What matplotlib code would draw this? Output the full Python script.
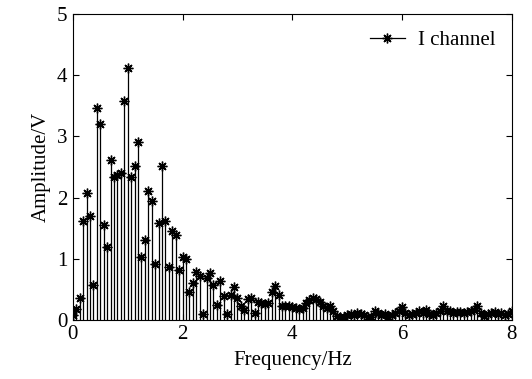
import matplotlib
matplotlib.use("Agg")
import matplotlib.pyplot as plt
import numpy as np
from matplotlib.lines import Line2D

# spectrum of the I channel
df = 0.0625  # frequency step [Hz]
amp = [
	0.08, 0.17, 0.35, 1.61, 2.07, 1.69, 0.57, 3.46, 3.20, 1.55,
	1.19, 2.61, 2.33, 2.37, 2.40, 3.58, 4.11, 2.33, 2.52, 2.90,
	1.03, 1.30, 2.10, 1.95, 0.92, 1.59, 2.52, 1.62, 0.87, 1.46,
	1.38, 0.82, 1.03, 1.00, 0.46, 0.60, 0.79, 0.72, 0.10, 0.68,
	0.77, 0.57, 0.25, 0.64, 0.39, 0.09, 0.41, 0.53, 0.35, 0.23,
	0.16, 0.34, 0.35, 0.11, 0.30, 0.28, 0.26, 0.27, 0.45, 0.56,
	0.41, 0.23, 0.22, 0.23, 0.21, 0.19, 0.17, 0.19, 0.27, 0.33,
	0.35, 0.34, 0.30, 0.22, 0.19, 0.23, 0.15, 0.07, 0.04, 0.05,
	0.08, 0.10, 0.08, 0.12, 0.10, 0.08, 0.04, 0.05, 0.14, 0.11,
	0.08, 0.10, 0.05, 0.08, 0.12, 0.15, 0.21, 0.11, 0.08,
	0.10, 0.12, 0.14, 0.11, 0.16, 0.10, 0.08, 0.11, 0.14, 0.22,
	0.15, 0.14, 0.12, 0.13, 0.13, 0.12, 0.13, 0.14, 0.16, 0.22,
	0.11, 0.07, 0.10, 0.11, 0.13, 0.10, 0.11, 0.08, 0.10, 0.15,
]
freq = np.arange(len(amp)) * df

x_ticks = [0, 2, 4, 6, 8]
y_ticks = [0, 1, 2, 3, 4, 5]

plt.rcParams['font.family'] = ['Liberation Serif', 'DejaVu Serif']
plt.rcParams['font.size'] = 15

fig = plt.figure(figsize=(5.32, 3.79), dpi=100)
ax = fig.add_axes([0.137, 0.156, 0.825, 0.807])

star = (8, 2, 0)  # asterisk like matlab '*'
markers, stems, base = ax.stem(freq, amp, linefmt='k-', markerfmt='k', basefmt=' ')
stems.set_linewidth(0.9)
markers.set_marker(star)
markers.set_markersize(7)
markers.set_markeredgewidth(1.0)

ax.set_xlim(0, 8)
ax.set_ylim(0, 5)
ax.set_xticks(x_ticks)
ax.set_yticks(y_ticks)
ax.tick_params(direction='in', top=True, right=True, length=4, width=0.8, pad=4)
for s in ax.spines.values():
	s.set_linewidth(0.8)

ax.set_xlabel("Frequency/Hz", labelpad=5)
ax.set_ylabel("Amplitude/V", labelpad=4)

h = Line2D([], [], color='k', lw=0.9, marker=star, markersize=7, markeredgewidth=1.0)
ax.legend([h], ["I channel"], loc='upper right', frameon=False, handlelength=1.7,
		  borderaxespad=0.4, handletextpad=0.6)

fig.savefig("out.png", dpi=100)
